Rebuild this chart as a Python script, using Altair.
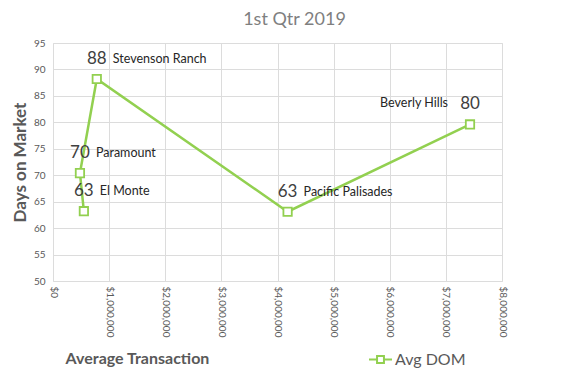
import altair as alt
import pandas as pd

names = ["El Monte", "Paramount", "Stevenson Ranch", "Pacific Palisades", "Beverly Hills"]
avg_transaction = [550000, 480000, 780000, 4180000, 7430000]
avg_dom = [63.2, 70.4, 88.2, 63.1, 79.6]
order = [1, 2, 3, 4, 5]
x_ticks = [0, 1000000, 2000000, 3000000, 4000000, 5000000, 6000000, 7000000, 8000000]
y_ticks = [50, 55, 60, 65, 70, 75, 80, 85, 90, 95]

df = pd.DataFrame({
    "name": names,
    "tx": avg_transaction,
    "dom": avg_dom,
    "ord": order,
})
df["series"] = "Avg DOM"

GREEN = "#92D050"
GRAY = "#595959"
FONT = "Lato"

x = alt.X("tx:Q", scale=alt.Scale(domain=[0, 8000000], nice=False),
          axis=alt.Axis(values=x_ticks, format="$,.0f", labelAngle=90, labelFontSize=10,
                        labelColor=GRAY, labelFont=FONT, ticks=False, domain=False,
                        gridColor="#dcdcdc", labelPadding=5,
                        title="Average Transaction", titleFont=FONT, titleFontSize=16,
                        titleFontWeight="bold", titleColor=GRAY, titleX=84, titleY=77,
                        titleAlign="center", titleBaseline="middle"))
y = alt.Y("dom:Q", scale=alt.Scale(domain=[50, 95], nice=False),
          axis=alt.Axis(values=y_ticks, labelFontSize=10, labelColor=GRAY, labelFont=FONT,
                        ticks=False, domain=False, gridColor="#dcdcdc", labelPadding=8,
                        title="Days on Market", titleFont=FONT, titleFontSize=17,
                        titleFontWeight="bold", titleColor=GRAY, titleX=-33,
                        titleBaseline="middle"))

base = alt.Chart(df)

line = base.mark_line(strokeWidth=2.5).encode(
    x=x, y=y, order="ord:Q",
    color=alt.Color("series:N", scale=alt.Scale(range=[GREEN]),
                    legend=alt.Legend(title=None, orient="none", legendX=315, legendY=304,
                                      symbolType="M-1,0H-0.3M0.3,0H1M-0.3,-0.3H0.3V0.3H-0.3Z",
                                      symbolSize=529, symbolStrokeWidth=2,
                                      symbolStrokeColor=GREEN, symbolFillColor="white",
                                      labelFont=FONT, labelFontSize=16, labelColor=GRAY,
                                      labelOffset=2)),
)

points = base.mark_point(shape="square", size=70, filled=True, fill="white",
                         stroke=GREEN, strokeWidth=1.8, opacity=1).encode(x=x, y=y)

values = base.mark_text(font=FONT, fontSize=17, color="#404040", dy=-20,
                        align="center", baseline="middle").encode(
    x=x, y=y, text=alt.Text("dom:Q", format=".0f"))

names_right = base.mark_text(font=FONT, fontSize=12.5, color="#262626", dx=16, dy=-20,
                             align="left", baseline="middle").transform_filter(
    alt.datum.name != "Beverly Hills").encode(x=x, y=y, text="name:N")

names_left = base.mark_text(font=FONT, fontSize=12.5, color="#262626", dx=-22, dy=-21,
                            align="right", baseline="middle").transform_filter(
    alt.datum.name == "Beverly Hills").encode(x=x, y=y, text="name:N")

chart = alt.layer(line, points, values, names_right, names_left).properties(
    width=449, height=238,
    autosize=alt.AutoSizeParams(type="none"),
    padding={"left": 45, "top": 35, "right": 78, "bottom": 89},
    title=alt.TitleParams("1st Qtr 2019", font=FONT, fontSize=18, fontWeight="normal",
                          color="#7f7f7f", dx=17, offset=9),
).configure_view(fill="#f1f1f1", stroke="#dcdcdc").configure(background="white")

chart.save("out.html", embed_options={"renderer": "svg", "actions": False})
